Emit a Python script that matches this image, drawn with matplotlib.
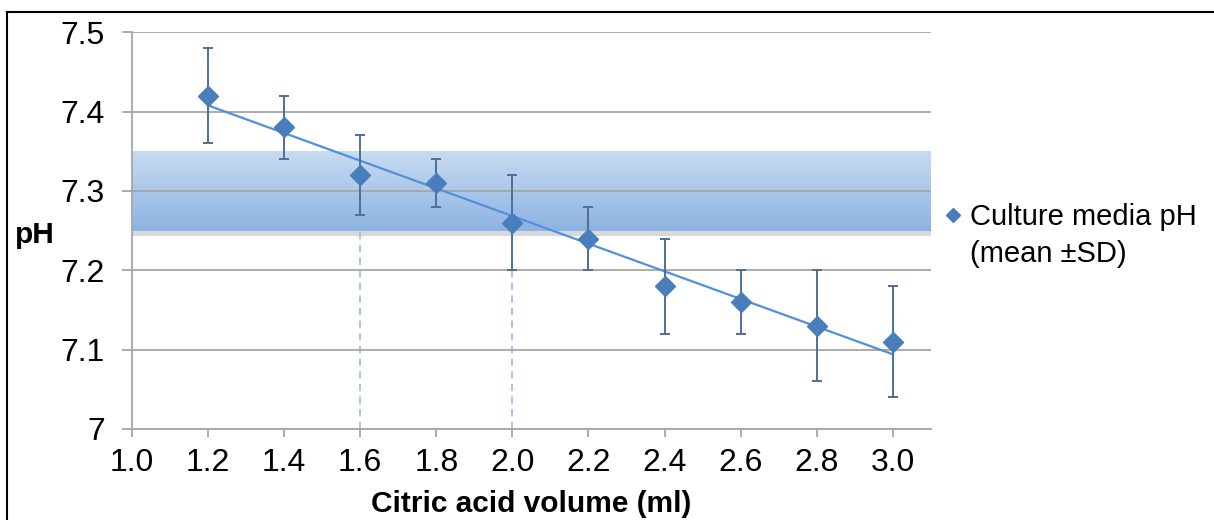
import numpy as np
import matplotlib
matplotlib.use('Agg')
import matplotlib.pyplot as plt
from matplotlib.lines import Line2D
from matplotlib.colors import LinearSegmentedColormap

plt.rcParams['font.family'] = ['Liberation Sans', 'DejaVu Sans']

# data
citric_ml = [1.2, 1.4, 1.6, 1.8, 2.0, 2.2, 2.4, 2.6, 2.8, 3.0]
ph_mean = [7.42, 7.38, 7.32, 7.31, 7.26, 7.24, 7.18, 7.16, 7.13, 7.11]
ph_sd = [0.06, 0.04, 0.05, 0.03, 0.06, 0.04, 0.06, 0.04, 0.07, 0.07]
target_band = [7.25, 7.35]      # shaded pH range
cut_volumes = [1.6, 2.0]        # dashed drop lines
x_ticks = [1.0, 1.2, 1.4, 1.6, 1.8, 2.0, 2.2, 2.4, 2.6, 2.8, 3.0]
y_ticks = [7.0, 7.1, 7.2, 7.3, 7.4, 7.5]
y_ticklabels = ['7', '7.1', '7.2', '7.3', '7.4', '7.5']

grid_col = '#a6a6a6'
marker_col = '#4a7ebb'
err_col = '#4f6f99'
trend_col = '#5090dc'

fig = plt.figure(figsize=(12.14, 5.2), dpi=100)
ax = fig.add_axes([0.1087, 0.175, 0.658, 0.763])
ax.set_xlim(1.0, 3.1)
ax.set_ylim(7.0, 7.5)

# gradient band with a faint shadow
grad = LinearSegmentedColormap.from_list('band', ['#8db3e2', '#c8dbf1'])
xl = ax.get_xlim()
ax.imshow(np.linspace(0, 1, 100).reshape(-1, 1), cmap=grad, origin='lower',
          extent=[xl[0], xl[1], target_band[0], target_band[1]],
          aspect='auto', zorder=1, interpolation='bicubic')
ax.axhspan(target_band[0] - 0.007, target_band[0], color='#b8b8b8', alpha=0.55,
           lw=0, zorder=0.9)
ax.set_xlim(xl)

ax.vlines(cut_volumes, 7.0, target_band[0], colors='#9cc0ea', linestyles=(0, (4, 3)),
          lw=1.3, zorder=1.2)

# linear trend from the means
k, b = np.polyfit(citric_ml, ph_mean, 1)
xs = np.array([citric_ml[0], citric_ml[-1]])
ax.plot(xs, k * xs + b, color=trend_col, lw=1.6, zorder=3)

ax.errorbar(citric_ml, ph_mean, yerr=ph_sd, fmt='none', ecolor=err_col,
            elinewidth=1.4, capsize=3.6, capthick=1.4, zorder=4)
ax.plot(citric_ml, ph_mean, 'D', color=marker_col, ms=10, zorder=5)

ax.set_axisbelow('line')
ax.grid(axis='y', color=grid_col, lw=1.3)
ax.set_xticks(x_ticks)
ax.set_xticklabels(['%.1f' % v for v in x_ticks])
ax.set_yticks(y_ticks)
ax.set_yticklabels(y_ticklabels)
ax.tick_params(axis='y', length=7.5, width=1.3, color=grid_col, labelsize=23, pad=12)
ax.tick_params(axis='x', length=6, width=1.3, color=grid_col, labelsize=23, pad=8)
for s in ['top', 'right']:
    ax.spines[s].set_visible(False)
for s in ['left', 'bottom']:
    ax.spines[s].set_color(grid_col)
    ax.spines[s].set_linewidth(1.3)

ax.set_xlabel('Citric acid volume (ml)', fontsize=21.5, fontweight='bold', labelpad=8)
ax.set_ylabel('pH', fontsize=21.5, fontweight='bold', rotation=0, va='center')
ax.yaxis.set_label_coords(-0.122, 0.49)

h = Line2D([], [], marker='D', color=marker_col, ls='none', ms=7.5)
blank = Line2D([], [], ls='none')
leg = fig.legend([h, blank], ['Culture media pH', '(mean ±SD)'], loc='upper left',
                 bbox_to_anchor=(0.763, 0.638), frameon=False, fontsize=21,
                 handlelength=0.8, handletextpad=0.2, borderpad=0,
                 labelspacing=0.3)

# outer frame lines of the figure
fig.add_artist(Line2D([0.006, 1.0], [0.977, 0.977], color='black', lw=1.5))
fig.add_artist(Line2D([0.006, 0.006], [0.0, 0.977], color='black', lw=1.5))

fig.savefig('out.png', dpi=100)
